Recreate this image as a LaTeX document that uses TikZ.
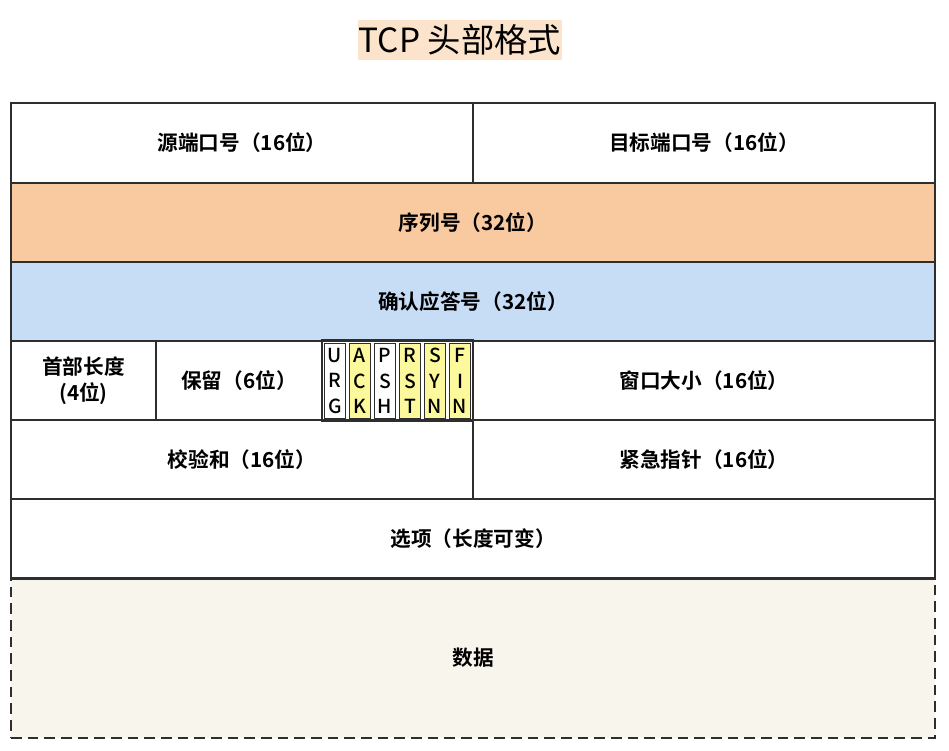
\documentclass[tikz,border=0pt]{standalone}
\usepackage{fontspec}
\setmainfont{Noto Sans CJK SC}
\newfontfamily\cjkb{Noto Sans CJK SC Bold}
\newfontfamily\cjkr{Noto Sans CJK SC}
\newfontfamily\cjkm{Noto Sans CJK SC Medium}
\definecolor{lineC}{HTML}{2E2E2E}
\definecolor{orangeC}{HTML}{F9C9A0}
\definecolor{blueC}{HTML}{C7DDF5}
\definecolor{dataC}{HTML}{F8F6EC}
\definecolor{titleC}{HTML}{FCE3CC}
\definecolor{flagC}{HTML}{FCF89C}
\def\u{0.75pt}
\tikzset{
  cell/.style={draw=lineC, line width=1.6pt, inner sep=0pt, font=\cjkb\fontsize{15.5}{19.5}\selectfont, text=black},
  flagbox/.style={draw=lineC, line width=0.7pt, inner sep=0pt, minimum width={21*\u}, minimum height={75*\u},
    font=\cjkm\fontsize{14.5}{19}\selectfont, align=center},
}
\begin{document}
\begin{tikzpicture}[x=\u, y=-\u]
\useasboundingbox (0,0) rectangle (949,750);
\fill[white] (0,0) rectangle (949,750);
% title
\node[fill=titleC, inner sep=0pt, minimum width={204*\u}, minimum height={40*\u}, font=\cjkr\fontsize{25}{28}\selectfont] (title) at (460,40) {TCP 头部格式};
% row 1
\node[cell, minimum width={462*\u}, minimum height={80*\u}] (src) at (242,143) {源端口号（16位）};
\node[cell, minimum width={462*\u}, minimum height={80*\u}] (dst) at (704,143) {目标端口号（16位）};
% row 2
\node[cell, fill=orangeC, minimum width={924*\u}, minimum height={79*\u}] (seq) at (473,222.5) {序列号（32位）};
% row 3
\node[cell, fill=blueC, minimum width={924*\u}, minimum height={79*\u}] (ack) at (473,301.5) {确认应答号（32位）};
% row 4
\node[cell, minimum width={145*\u}, minimum height={79*\u}, align=center] (hlen) at (83.5,380.5) {首部长度\\(4位)};
\node[cell, minimum width={166*\u}, minimum height={79*\u}] (rsv) at (239,380.5) {保留（6位）};
\node[cell, draw=none, minimum width={151*\u}, minimum height={79*\u}] (flags) at (397.5,380.5) {};
\draw[lineC, line width=1.6pt] (flags.north west) -- (flags.north east) (flags.south west) -- (flags.south east);
\node[cell, minimum width={462*\u}, minimum height={79*\u}] (win) at (704,380.5) {窗口大小（16位）};
\node[flagbox, fill=white] (fURG) at (335,381) {U\\R\\G};
\node[flagbox, fill=flagC] (fACK) at (360,381) {A\\C\\K};
\node[flagbox, fill=white] (fPSH) at (385,381) {P\\S\\H};
\node[flagbox, fill=flagC] (fRST) at (410,381) {R\\S\\T};
\node[flagbox, fill=flagC] (fSYN) at (435,381) {S\\Y\\N};
\node[flagbox, fill=flagC] (fFIN) at (460,381) {F\\I\\N};
% row 5
\node[cell, minimum width={462*\u}, minimum height={79*\u}] (chk) at (242,459.5) {校验和（16位）};
\node[cell, minimum width={462*\u}, minimum height={79*\u}] (urp) at (704,459.5) {紧急指针（16位）};
% row 6
\node[cell, minimum width={924*\u}, minimum height={79*\u}] (opt) at (473,538.5) {选项（长度可变）};
% data
\node[cell, fill=dataC, dashed, dash pattern=on 8pt off 4.5pt, minimum width={924*\u}, minimum height={160*\u}] (data) at (473,658) {数据};
\draw[lineC, line width=1.6pt] (opt.south west) -- (opt.south east);
\end{tikzpicture}
\end{document}
